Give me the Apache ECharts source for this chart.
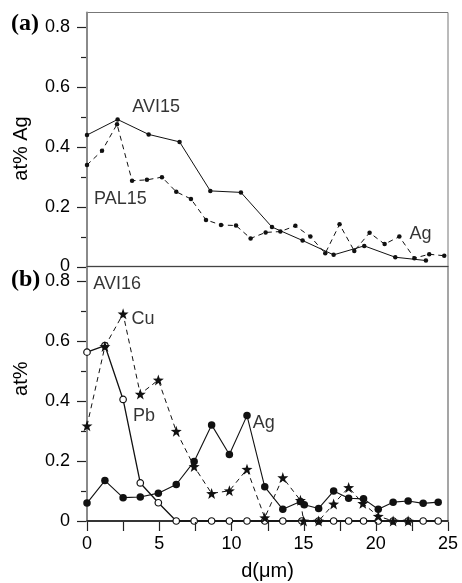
<!DOCTYPE html>
<html>
<head>
<meta charset="utf-8">
<script src="https://cdn.jsdelivr.net/npm/echarts@6/dist/echarts.min.js"></script>
<style>
  html, body { margin: 0; padding: 0; background: #fff; }
  #chart { width: 462px; height: 583px; }
</style>
</head>
<body>
<div id="chart"></div>
<script>
// Panel (a): Ag profiles of AVI15 and PAL15 versus depth d (µm)
const avi15Depth = [0, 2.12, 4.27, 6.41, 8.54, 10.66, 12.81, 14.93, 17.08, 19.2, 21.35, 23.47];
const avi15Ag    = [0.44, 0.492, 0.442, 0.417, 0.253, 0.248, 0.132, 0.087, 0.039, 0.069, 0.031, 0.02];

const pal15Depth = [0, 1.04, 2.08, 3.12, 4.15, 5.19, 6.18, 7.2, 8.24, 9.28, 10.32, 11.33, 12.37,
                    13.39, 14.43, 15.47, 16.5, 17.49, 18.51, 19.57, 20.61, 21.63, 22.67, 23.7, 24.74];
const pal15Ag    = [0.34, 0.387, 0.476, 0.287, 0.29, 0.299, 0.25, 0.226, 0.156, 0.139, 0.137, 0.094, 0.114,
                    0.117, 0.136, 0.1, 0.044, 0.141, 0.052, 0.113, 0.075, 0.1, 0.028, 0.041, 0.036];

// Panel (b): AVI16 profiles of Ag, Pb and Cu
const agDepth = [0, 1.24, 2.5, 3.69, 4.94, 6.18, 7.42, 8.63, 9.86, 11.08, 12.31, 13.56, 14.78, 15.05,
                 16.04, 17.08, 18.12, 19.15, 20.17, 21.2, 22.24, 23.28, 24.32];
const agB     = [0.06, 0.135, 0.078, 0.08, 0.093, 0.122, 0.199, 0.321, 0.222, 0.352, 0.114, 0.039, 0.065, 0.054,
                 0.042, 0.1, 0.076, 0.074, 0.039, 0.063, 0.067, 0.059, 0.063];

const pbDepth = [0, 1.24, 2.5, 3.69, 4.94, 6.18, 7.42, 8.63, 9.86, 11.08, 12.31, 13.56, 14.88,
                 16.04, 17.08, 18.12, 19.15, 20.17, 21.2, 22.24, 23.28, 24.32];
const pbB     = [0.564, 0.586, 0.406, 0.127, 0.061, 0, 0, 0, 0, 0, 0, 0, 0,
                 0, 0, 0, 0, 0, 0, 0, 0, 0];

const cuDepth = [0, 1.24, 2.5, 3.69, 4.94, 6.18, 7.42, 8.63, 9.86, 11.08, 12.31, 13.56, 14.78, 15.0,
                 16.04, 17.08, 18.12, 19.1, 20.17, 21.2, 22.24];
const cuB     = [0.318, 0.583, 0.692, 0.424, 0.471, 0.3, 0.182, 0.092, 0.101, 0.173, 0.011, 0.145, 0.069, 0,
                 0, 0.057, 0.112, 0.059, 0.016, 0, 0];

// Axis ticks
const yMajor = [0, 0.2, 0.4, 0.6, 0.8];
const yMinor = [0.1, 0.3, 0.5, 0.7];
const xLabels = [0, 5, 10, 15, 20, 25];
const xTicks = [0, 2.5, 5, 7.5, 10, 12.5, 15, 17.5, 20, 22.5, 25];

// Curve names placed in data coordinates of each panel
const notesA = [
  { name: 'AVI15', at: [3.1, 0.535] },
  { name: 'PAL15', at: [0.45, 0.227] },
  { name: 'Ag',    at: [22.3, 0.11] }
];
const notesB = [
  { name: 'AVI16', at: [0.4, 0.79] },
  { name: 'Cu',    at: [3.05, 0.676] },
  { name: 'Pb',    at: [3.15, 0.352] },
  { name: 'Ag',    at: [11.45, 0.328] }
];

const zip = (xs, ys) => xs.map((x, i) => [x, ys[i]]);

const FONT = 'Liberation Sans';
const TXT = '#000';
const TICK = '#222';
const STAR = 'path://M0,-10L2.35,-3.24L9.51,-3.09L3.8,1.24L5.88,8.09L0,4.1L-5.88,8.09L-3.8,1.24L-9.51,-3.09L-2.35,-3.24Z';
const Y_MAX = 0.85;
const X_MAX = 25;

const chart = echarts.init(document.getElementById('chart'), null, { renderer: 'canvas' });

function yAxisFor(gridIndex, name, namePadding) {
  return {
    type: 'value', gridIndex, position: 'left', min: 0, max: Y_MAX,
    name, nameLocation: 'middle', nameGap: 56, nameRotate: 90,
    nameTextStyle: { fontFamily: FONT, fontSize: 20, color: TXT, padding: namePadding },
    axisLine: { show: true, lineStyle: { color: '#8a8a8a', width: 2 } },
    axisTick: { show: false },
    axisLabel: {
      show: true, margin: 17, customValues: yMajor,
      fontFamily: FONT, fontSize: 18, color: TXT,
      formatter: v => (v === 0 ? '0' : v.toFixed(1))
    },
    splitLine: { show: false }
  };
}

function notesSeries(notes, axisIndex) {
  return {
    type: 'scatter', xAxisIndex: axisIndex, yAxisIndex: axisIndex, silent: true, z: 10,
    symbolSize: 1, itemStyle: { color: 'rgba(0,0,0,0)' },
    data: notes.map(n => ({ name: n.name, value: n.at })),
    label: {
      show: true, position: 'right', distance: 0,
      formatter: p => p.name,
      fontFamily: FONT, fontSize: 18, color: TXT
    }
  };
}

const option = {
  animation: false,
  backgroundColor: '#fff',
  title: [
    { text: '(a)', left: 6, top: 7,
      textStyle: { fontFamily: 'Liberation Serif', fontWeight: 'bold', fontSize: 24, color: '#000' } },
    { text: '(b)', left: 6, top: 263,
      textStyle: { fontFamily: 'Liberation Serif', fontWeight: 'bold', fontSize: 24, color: '#000' } }
  ],
  grid: [
    { left: 87, right: 14, top: 12.5, height: 254, show: true, borderColor: '#777', borderWidth: 1 },
    { left: 87, right: 14, top: 266.5, height: 254.5, show: true, borderColor: '#888', borderWidth: 1.5 }
  ],
  xAxis: [
    {
      type: 'value', gridIndex: 0, min: 0, max: X_MAX, interval: 5,
      axisLine: { show: true, onZero: false, lineStyle: { color: '#444', width: 1 } },
      axisTick: { show: false }, axisLabel: { show: false }, splitLine: { show: false }
    },
    {
      type: 'value', gridIndex: 1, min: 0, max: X_MAX, interval: 5,
      name: 'd(μm)', nameLocation: 'middle', nameGap: 40,
      nameTextStyle: { fontFamily: FONT, fontSize: 20, color: TXT },
      axisLine: { show: true, onZero: false, lineStyle: { color: '#111', width: 1.5 } },
      axisTick: { show: false },
      axisLabel: {
        show: true, margin: 14, customValues: xLabels,
        fontFamily: FONT, fontSize: 18, color: TXT
      },
      splitLine: { show: false }
    }
  ],
  yAxis: [
    yAxisFor(0, 'at% Ag', [0, 18, 0, 0]),
    yAxisFor(1, 'at%', [0, 0, 0, 30])
  ],
  series: [
    {
      name: 'AVI15', type: 'line', xAxisIndex: 0, yAxisIndex: 0, clip: false,
      data: zip(avi15Depth, avi15Ag),
      symbol: 'circle', symbolSize: 4.5, itemStyle: { color: '#111' },
      lineStyle: { color: '#111', width: 1 }
    },
    {
      name: 'PAL15', type: 'line', xAxisIndex: 0, yAxisIndex: 0, clip: false,
      data: zip(pal15Depth, pal15Ag),
      symbol: 'circle', symbolSize: 4.5, itemStyle: { color: '#111' },
      lineStyle: { color: '#111', width: 1, type: [5, 4] }
    },
    {
      name: 'Pb', type: 'line', xAxisIndex: 1, yAxisIndex: 1, clip: false,
      data: zip(pbDepth, pbB),
      symbol: 'circle', symbolSize: 6.5,
      itemStyle: { color: '#fff', borderColor: '#111', borderWidth: 1.2 },
      lineStyle: { color: '#111', width: 1.3 }
    },
    {
      name: 'Ag', type: 'line', xAxisIndex: 1, yAxisIndex: 1, clip: false,
      data: zip(agDepth, agB),
      symbol: 'circle', symbolSize: 7.5, itemStyle: { color: '#111' },
      lineStyle: { color: '#111', width: 1.1 }
    },
    {
      name: 'Cu', type: 'line', xAxisIndex: 1, yAxisIndex: 1, clip: false,
      data: zip(cuDepth, cuB),
      symbol: STAR, symbolSize: 11, itemStyle: { color: '#111' },
      lineStyle: { color: '#111', width: 1, type: [5, 4] }
    },
    notesSeries(notesA, 0),
    notesSeries(notesB, 1)
  ]
};

chart.setOption(option);

// Tick marks: positions come from the axis scales via convertToPixel
const snap = v => Math.round(v) + 0.5;
const tickLines = [];
[0, 1].forEach(idx => {
  const finder = { xAxisIndex: idx, yAxisIndex: idx };
  yMajor.map(v => [v, 10]).concat(yMinor.map(v => [v, 6])).forEach(([v, len]) => {
    const p = chart.convertToPixel(finder, [0, v]);
    const y = snap(p[1]);
    const x = Math.round(p[0]);
    tickLines.push({
      type: 'line', z: 100, silent: true,
      shape: { x1: x - len, y1: y, x2: x - 1, y2: y },
      style: { stroke: TICK, lineWidth: 1.2 }
    });
  });
});
xTicks.forEach(v => {
  const p = chart.convertToPixel({ xAxisIndex: 1, yAxisIndex: 1 }, [v, 0]);
  const x = snap(p[0]);
  const y = Math.round(p[1]);
  tickLines.push({
    type: 'line', z: 100, silent: true,
    shape: { x1: x, y1: y + 1, x2: x, y2: y + 10 },
    style: { stroke: TICK, lineWidth: 1.2 }
  });
});
chart.setOption({ graphic: tickLines });
</script>
</body>
</html>
